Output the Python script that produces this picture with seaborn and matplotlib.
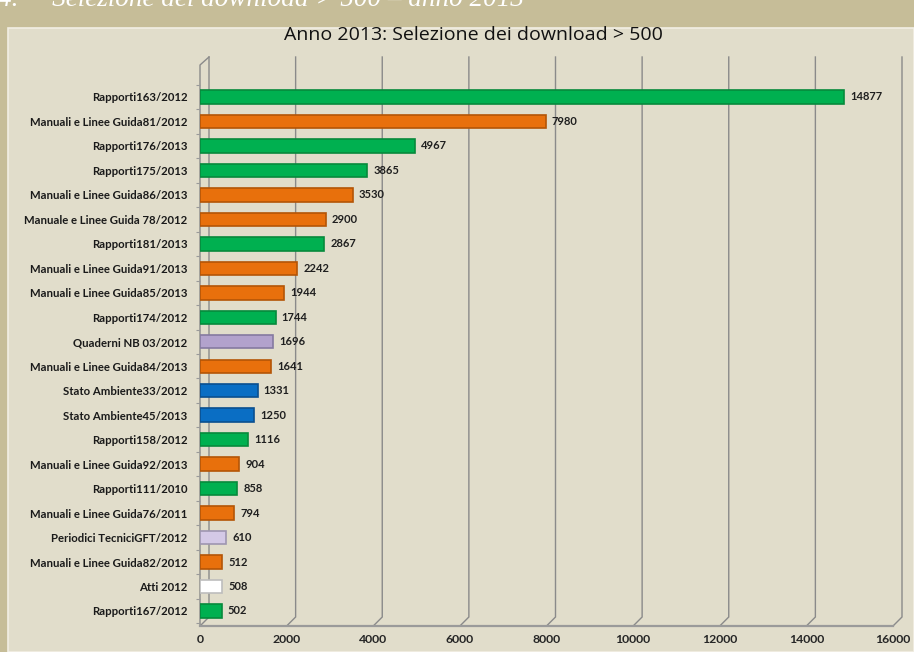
import matplotlib
matplotlib.use("Agg")
import matplotlib.pyplot as plt
from matplotlib.patches import Rectangle
from matplotlib.ticker import FixedLocator
import seaborn as sns
import pandas as pd

categories = [
    "Rapporti163/2012", "Manuali e Linee Guida81/2012", "Rapporti176/2013",
    "Rapporti175/2013", "Manuali e Linee Guida86/2013", "Manuale e Linee Guida 78/2012",
    "Rapporti181/2013", "Manuali e Linee Guida91/2013", "Manuali e Linee Guida85/2013",
    "Rapporti174/2012", "Quaderni NB 03/2012", "Manuali e Linee Guida84/2013",
    "Stato Ambiente33/2012", "Stato Ambiente45/2013", "Rapporti158/2012",
    "Manuali e Linee Guida92/2013", "Rapporti111/2010", "Manuali e Linee Guida76/2011",
    "Periodici TecniciGFT/2012", "Manuali e Linee Guida82/2012", "Atti 2012",
    "Rapporti167/2012",
]
downloads = [14877, 7980, 4967, 3865, 3530, 2900, 2867, 2242, 1944, 1744, 1696,
             1641, 1331, 1250, 1116, 904, 858, 794, 610, 512, 508, 502]
series_type = ["R", "M", "R", "R", "M", "M", "R", "M", "M", "R", "Q", "M",
               "S", "S", "R", "M", "R", "M", "P", "M", "A", "R"]
x_ticks = [0, 2000, 4000, 6000, 8000, 10000, 12000, 14000, 16000]

type_colors = {"R": "#00b050", "M": "#e8700c", "S": "#0a6ec4",
               "Q": "#b2a2cc", "P": "#d4c9e6", "A": "#ffffff"}
edge_colors = {"R": "#078a3c", "M": "#b45506", "S": "#0a4f90",
               "Q": "#857aa0", "P": "#9e96b0", "A": "#bdbdbd"}

df = pd.DataFrame({"cat": categories, "val": downloads, "typ": series_type})
palette = [type_colors[t] for t in series_type]

W, H = 914, 652
fig = plt.figure(figsize=(W / 100, H / 100), dpi=100)
fig.patch.set_facecolor("#c6bd98")
# inner chart panel
fig.patches.append(Rectangle((8 / W, 0), 1 - 8 / W, 1 - 28 / H,
                             transform=fig.transFigure, facecolor="#e1ddcb",
                             edgecolor="#f2efe4", linewidth=1.2, zorder=-5))
# page header, cut off at the top edge as in the source screenshot
fig.text(-2 / W, 1 - 6 / H, "4.     Selezione dei download > 500 – anno 2013",
         ha="left", va="baseline", fontsize=19.5, style="italic",
         family="Liberation Serif", color="#ffffff")
fig.text(473 / W, 1 - 35 / H, "Anno 2013: Selezione dei download > 500",
         ha="center", va="center", fontsize=14, family="Open Sans", color="#111111")

ax_l, ax_r, ax_t, ax_b = 200, 893, 57, 626
ax = fig.add_axes([ax_l / W, 1 - ax_b / H, (ax_r - ax_l) / W, (ax_b - ax_t) / H])
ax.set_zorder(2)
ax.set_facecolor("none")

sns.barplot(data=df, x="val", y="cat", hue="cat", palette=palette, legend=False,
            orient="h", width=0.55, saturation=1, ax=ax, zorder=3)
for patch, t in zip(ax.patches, series_type):
    patch.set_edgecolor(edge_colors[t])
    patch.set_linewidth(1.2)

for i, v in enumerate(downloads):
    ax.text(v + 140, i, str(v), va="center", ha="left", fontsize=8,
            fontweight="bold", family="Lato", color="#1f1f1f", zorder=4)

xmax = 16000
ax.set_xlim(0, xmax)
ax.set_ylim(21.613, -1.634)
ax.set_xticks(x_ticks)
ax.set_xticklabels([str(t) for t in x_ticks])
ax.grid(False)

# 3-D style back wall grid lines (offset), slanting down to the front floor
px = xmax / (ax_r - ax_l)          # data units per pixel
dx = 9 * px
floor_back = (ax_b - 617) / (ax_b - ax_t)
trans = ax.get_xaxis_transform()
grid_c = "#8a8a8a"
for t in x_ticks:
    ax.plot([t + dx, t + dx, t], [1.0, floor_back, 0.0], transform=trans,
            color=grid_c, linewidth=1.0, zorder=1, clip_on=False,
            solid_joinstyle="miter")
# front left wall edge with the slanted top
top_front = (ax_b - 65) / (ax_b - ax_t)
ax.plot([0, 0, dx], [0.0, top_front, 1.0], transform=trans, color=grid_c,
        linewidth=1.0, zorder=1, clip_on=False)

ax.set_xlabel("")
ax.set_ylabel("")
for s in ["top", "right", "left"]:
    ax.spines[s].set_visible(False)
ax.spines["bottom"].set_color("#9a9a9a")
ax.spines["bottom"].set_linewidth(1.6)

ax.yaxis.set_minor_locator(FixedLocator([i - 0.5 for i in range(len(categories) + 1)]))
ax.tick_params(axis="y", which="minor", length=3, color="#9a9a9a", width=0.8)
ax.tick_params(axis="y", which="major", length=0, pad=9, labelsize=8.2,
               labelcolor="#1a1a1a")
ax.tick_params(axis="x", length=0, pad=6, labelsize=8.8, labelcolor="#262626")
for lab in ax.get_xticklabels() + ax.get_yticklabels():
    lab.set_family("Lato")
    lab.set_fontweight("bold")

fig.savefig("out.png", dpi=100, facecolor=fig.get_facecolor())
